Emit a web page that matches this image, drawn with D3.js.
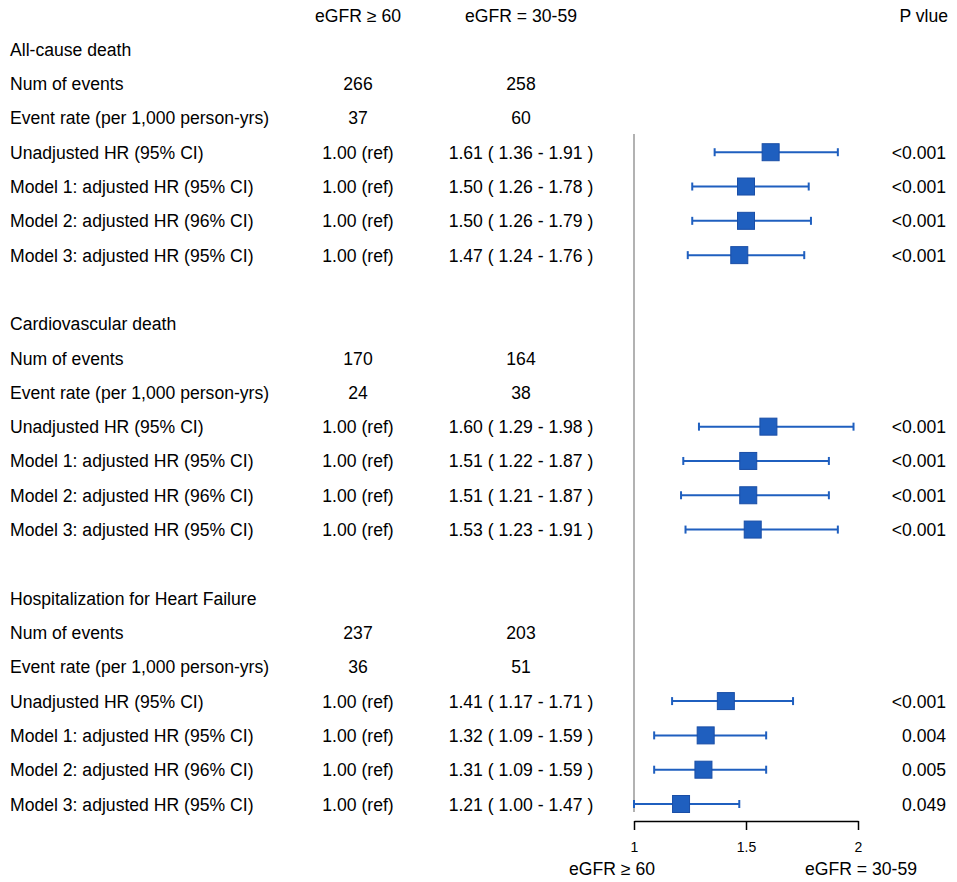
<!DOCTYPE html>
<html>
<head>
<meta charset="utf-8">
<style>
    body { margin: 0; background: #fff; }
    text { font-family: Arial, "Liberation Sans", sans-serif; fill: #000; }
</style>
</head>
<body>
<svg id="chart"></svg>
<script src="https://cdn.jsdelivr.net/npm/d3@7"></script>
<script>
    "use strict"
    const width = 957;
    const height = 882;
    const fs = 17.6;

    // data
    const groups = ["All-cause death", "Cardiovascular death", "Hospitalization for Heart Failure"];
    const events60 = [266, 170, 237];
    const events3059 = [258, 164, 203];
    const rate60 = [37, 24, 36];
    const rate3059 = [60, 38, 51];
    const models = ["Unadjusted HR (95% CI)", "Model 1: adjusted HR (95% CI)",
        "Model 2: adjusted HR (96% CI)", "Model 3: adjusted HR (95% CI)"];
    const hr = [[1.61, 1.50, 1.50, 1.47], [1.60, 1.51, 1.51, 1.53], [1.41, 1.32, 1.31, 1.21]];
    const lo = [[1.36, 1.26, 1.26, 1.24], [1.29, 1.22, 1.21, 1.23], [1.17, 1.09, 1.09, 1.00]];
    const hi = [[1.91, 1.78, 1.79, 1.76], [1.98, 1.87, 1.87, 1.91], [1.71, 1.59, 1.59, 1.47]];
    const pvals = [["<0.001", "<0.001", "<0.001", "<0.001"],
        ["<0.001", "<0.001", "<0.001", "<0.001"],
        ["<0.001", "0.004", "0.005", "0.049"]];
    const xTicks = [1, 1.5, 2];

    const blue = "#1f5fbf";
    const blueDark = "#1a4ea6";

    // build row table
    const rows = [];
    groups.forEach((g, gi) => {
        const base = gi * 8 + 1;
        rows.push({ i: base, label: g });
        rows.push({ i: base + 1, label: "Num of events", c1: events60[gi], c2: events3059[gi] });
        rows.push({ i: base + 2, label: "Event rate (per 1,000 person-yrs)", c1: rate60[gi], c2: rate3059[gi] });
        models.forEach((m, mi) => {
            rows.push({
                i: base + 3 + mi, label: m, c1: "1.00 (ref)",
                c2: `${hr[gi][mi].toFixed(2)} ( ${lo[gi][mi].toFixed(2)} - ${hi[gi][mi].toFixed(2)} )`,
                hr: hr[gi][mi], lo: lo[gi][mi], hi: hi[gi][mi], p: pvals[gi][mi]
            });
        });
    });

    const y = d3.scaleLinear().domain([0, 23]).range([15, 804]);
    const x = d3.scaleLinear().domain([1, 2]).range([634, 858]);

    const svg = d3.select("#chart")
        .attr("width", width)
        .attr("height", height);

    // headers
    svg.append("text").attr("x", 358).attr("y", y(0) + 6.5)
        .attr("text-anchor", "middle").attr("font-size", fs).text("eGFR ≥ 60");
    svg.append("text").attr("x", 521).attr("y", y(0) + 6.5)
        .attr("text-anchor", "middle").attr("font-size", fs).text("eGFR = 30-59");
    svg.append("text").attr("x", 948).attr("y", y(0) + 6.5)
        .attr("text-anchor", "end").attr("font-size", fs).text("P vlue");

    const row = svg.selectAll(".row").data(rows).enter().append("g")
        .attr("class", "row")
        .attr("transform", d => `translate(0,${y(d.i) + 6.5})`);

    row.append("text").attr("x", 10).attr("font-size", fs).text(d => d.label);
    row.filter(d => d.c1 !== undefined).append("text")
        .attr("x", 358).attr("text-anchor", "middle").attr("font-size", fs).text(d => d.c1);
    row.filter(d => d.c2 !== undefined).append("text")
        .attr("x", 521).attr("text-anchor", "middle").attr("font-size", fs).text(d => d.c2);
    row.filter(d => d.p !== undefined).append("text")
        .attr("x", 946).attr("text-anchor", "end").attr("font-size", fs).text(d => d.p);

    // reference line
    svg.append("line")
        .attr("x1", x(1)).attr("x2", x(1))
        .attr("y1", 134).attr("y2", 812)
        .attr("stroke", "#999").attr("stroke-width", 1.5);

    // forest marks
    const est = rows.filter(d => d.hr !== undefined);
    const mark = svg.selectAll(".mark").data(est).enter().append("g")
        .attr("class", "mark")
        .attr("transform", d => `translate(0,${y(d.i)})`);

    mark.append("line")
        .attr("x1", d => x(d.lo)).attr("x2", d => x(d.hi))
        .attr("stroke", blue).attr("stroke-width", 2);
    mark.append("line")
        .attr("x1", d => x(d.lo)).attr("x2", d => x(d.lo))
        .attr("y1", -4).attr("y2", 4)
        .attr("stroke", blue).attr("stroke-width", 2);
    mark.append("line")
        .attr("x1", d => x(d.hi)).attr("x2", d => x(d.hi))
        .attr("y1", -4).attr("y2", 4)
        .attr("stroke", blue).attr("stroke-width", 2);
    mark.append("rect")
        .attr("x", d => x(d.hr) - 8.5).attr("y", -8.5)
        .attr("width", 17).attr("height", 17)
        .attr("fill", blue).attr("stroke", blueDark).attr("stroke-width", 1);

    // axis
    const axis = svg.append("g")
        .attr("transform", "translate(0,821)")
        .call(d3.axisBottom(x).tickValues(xTicks).tickFormat(d3.format("")).tickSize(9).tickSizeOuter(0).tickPadding(12));
    axis.select(".domain").attr("stroke", "#000").attr("stroke-width", 1.5);
    axis.selectAll(".tick line").attr("stroke", "#000").attr("stroke-width", 1.5);
    axis.selectAll(".tick text").attr("font-size", 14).attr("font-family", "Arial, 'Liberation Sans', sans-serif").attr("fill", "#000");

    svg.append("text").attr("x", 612).attr("y", 875)
        .attr("text-anchor", "middle").attr("font-size", fs).text("eGFR ≥ 60");
    svg.append("text").attr("x", 861).attr("y", 875)
        .attr("text-anchor", "middle").attr("font-size", fs).text("eGFR = 30-59");
</script>
</body>
</html>
